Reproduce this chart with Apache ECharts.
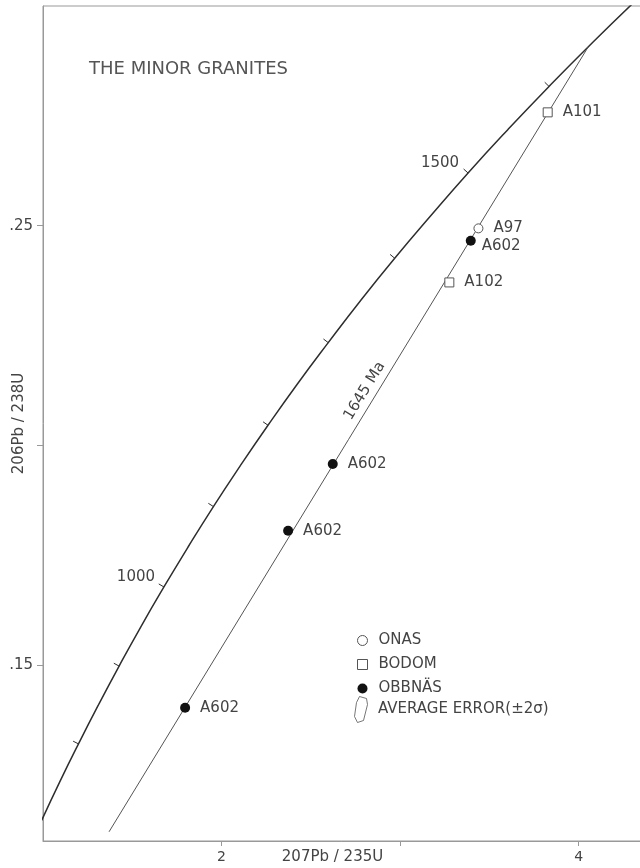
<!DOCTYPE html>
<html>
<head>
<meta charset="utf-8">
<title>The minor granites</title>
<script src="https://cdn.jsdelivr.net/npm/echarts@6/dist/echarts.min.js"></script>
<style>
  html, body { margin: 0; padding: 0; background: #fff; }
  #chart { width: 640px; height: 868px; }
</style>
</head>
<body>
<div id="chart"></div>
<script>
// concordia curve, read at 50 Ma steps
const concAge = [700, 750, 800, 850, 900, 950, 1000, 1050, 1100, 1150, 1200, 1250, 1300, 1350, 1400, 1450, 1500, 1550, 1600, 1650, 1700];
const concX = [0.9925, 1.0931, 1.1987, 1.3097, 1.4263, 1.5488, 1.6774, 1.8126, 1.9545, 2.1037, 2.2603, 2.4249, 2.5977, 2.7793, 2.9701, 3.1705, 3.3810, 3.6021, 3.8344, 4.0784, 4.3348];
const concY = [0.1147, 0.1234, 0.1321, 0.1409, 0.1498, 0.1588, 0.1678, 0.1769, 0.1861, 0.1953, 0.2046, 0.2140, 0.2234, 0.2330, 0.2426, 0.2522, 0.2620, 0.2718, 0.2817, 0.2917, 0.3018];
const tickAges = [800, 900, 1000, 1100, 1200, 1300, 1400, 1500, 1600];
const labelAges = [1000, 1500];

// discordia: upper intercept (1645 Ma) and lower end
const discX = [4.054, 1.370];
const discY = [0.2907, 0.1121];
const discLabel = '1645 Ma';

// samples
const onasX = [3.439];
const onasY = [0.2494];
const onasLab = ['A97'];
const bodomX = [3.827, 3.276];
const bodomY = [0.2758, 0.2371];
const bodomLab = ['A101', 'A102'];
const obbX = [3.396, 2.623, 2.373, 1.796];
const obbY = [0.2466, 0.1958, 0.1806, 0.1403];
const obbLab = ['A602', 'A602', 'A602', 'A602'];

// axis ticks
const xTicks = [2, 3, 4];
const xLabels = [2, 4];
const yTicks = [0.15, 0.20, 0.25];
const yLabels = [0.15, 0.25];

const FONT = "'DejaVu Sans', sans-serif";
const INK = '#444';
const errName = 'AVERAGE ERROR(±2σ)';
const errIcon = 'path://M5,0 L12,2 L13,8 L9,24 L3,26 L0,20 L2,6 Z';

function pts(xs, ys, labs) {
    return xs.map((x, i) => ({ value: [x, ys[i]], name: labs[i] }));
}

const obbData = pts(obbX, obbY, obbLab);
// first A602 label sits a little lower
obbData[0].label = { distance: 6, offset: [0, 5] };

const ptLabel = {
    show: true, position: 'right', distance: 10, formatter: '{b}',
    color: INK, fontSize: 15, fontFamily: FONT
};

// where along the discordia the age label sits
const f0 = 0.546, f1 = 0.346;
const lerp = (a, b, t) => a + (b - a) * t;

const myChart = echarts.init(document.getElementById('chart'));

const option = {
    animation: false,
    backgroundColor: '#fff',
    title: {
        text: 'THE MINOR GRANITES',
        left: 84,
        top: 55,
        textStyle: { fontSize: 18, fontWeight: 'normal', color: '#555', fontFamily: FONT }
    },
    grid: {
        left: 43, right: -10, top: 6, bottom: 27,
        show: true, borderColor: '#999', borderWidth: 1,
        outerBoundsMode: 'none'
    },
    legend: [
        {
            orient: 'vertical', left: 352, top: 628,
            itemWidth: 10, itemHeight: 10, itemGap: 9,
            selectedMode: false,
            itemStyle: { borderWidth: 1 },
            textStyle: { fontSize: 15, color: INK, fontFamily: FONT, lineHeight: 14, padding: [0, 0, 0, 6] },
            data: [
                { name: 'ONAS', icon: 'circle', itemStyle: { color: '#fff', borderColor: '#555', borderWidth: 1 } },
                { name: 'BODOM', icon: 'path://M0,0H10V10H0Z', itemStyle: { color: '#fff', borderColor: '#555', borderWidth: 1 } },
                { name: 'OBBNÄS', icon: 'circle', itemStyle: { color: '#111', borderWidth: 0 } }
            ]
        },
        {
            orient: 'vertical', left: 349, top: 691,
            itemWidth: 14, itemHeight: 26,
            selectedMode: false,
            textStyle: { fontSize: 15, color: INK, fontFamily: FONT, padding: [0, 0, 0, 5] },
            data: [
                { name: errName, icon: errIcon, itemStyle: { color: '#fff', borderColor: '#555', borderWidth: 1 } }
            ]
        }
    ],
    xAxis: {
        type: 'value',
        min: 1, max: 4.4, interval: 1,
        name: '207Pb / 235U',
        nameLocation: 'middle',
        nameGap: 9,
        nameMoveOverlap: false,
        nameTextStyle: { fontSize: 15, color: INK, fontFamily: FONT, padding: [0, 28, 0, 0], verticalAlign: 'top' },
        splitLine: { show: false },
        axisLine: { show: true, lineStyle: { color: '#999', width: 1 } },
        axisTick: { show: true, length: 5, inside: false, customValues: xTicks, lineStyle: { color: '#999' } },
        axisLabel: { customValues: xLabels, margin: 9, fontSize: 14, color: INK, fontFamily: FONT }
    },
    yAxis: {
        type: 'value',
        min: 0.11, max: 0.30,
        name: '206Pb / 238U',
        nameLocation: 'middle',
        nameGap: 16,
        nameMoveOverlap: false,
        nameTextStyle: { fontSize: 15, color: INK, fontFamily: FONT },
        splitLine: { show: false },
        axisLine: { show: true, lineStyle: { color: '#999', width: 1 } },
        axisTick: { show: true, length: 6, inside: false, customValues: yTicks, lineStyle: { color: '#999' } },
        axisLabel: {
            customValues: yLabels, margin: 10, fontSize: 15, color: INK, fontFamily: FONT,
            formatter: v => v.toFixed(2).replace(/^0/, '')
        }
    },
    series: [
        {
            name: 'concordia',
            type: 'line',
            data: concX.map((x, i) => [x, concY[i]]),
            smooth: true,
            showSymbol: false,
            clip: true,
            lineStyle: { color: '#2e2e2e', width: 1.5 },
            silent: true,
            z: 2
        },
        {
            name: 'concordiaTicks',
            type: 'custom',
            data: tickAges.map(a => {
                const k = concAge.indexOf(a);
                return [concX[k], concY[k], k, a];
            }),
            renderItem: function (params, api) {
                const k = api.value(2);
                const age = api.value(3);
                const p = api.coord([api.value(0), api.value(1)]);
                const a = api.coord([concX[k - 1], concY[k - 1]]);
                const b = api.coord([concX[k + 1], concY[k + 1]]);
                let tx = b[0] - a[0], ty = b[1] - a[1];
                const L = Math.hypot(tx, ty);
                tx /= L; ty /= L;
                const nx = ty, ny = -tx;
                const children = [{
                    type: 'line',
                    shape: { x1: p[0], y1: p[1], x2: p[0] + nx * 6, y2: p[1] + ny * 6 },
                    style: { stroke: '#2e2e2e', lineWidth: 1 }
                }];
                if (labelAges.indexOf(age) >= 0) {
                    children.push({
                        type: 'text',
                        style: {
                            x: p[0] - 28, y: p[1] - 10, text: String(age),
                            fill: INK, fontSize: 15, fontFamily: FONT,
                            align: 'center', verticalAlign: 'middle'
                        }
                    });
                }
                return { type: 'group', children: children };
            },
            silent: true,
            z: 3
        },
        {
            name: 'discordia',
            type: 'line',
            data: discX.map((x, i) => [x, discY[i]]),
            showSymbol: false,
            lineStyle: { color: '#555', width: 1 },
            silent: true,
            z: 2,
            markLine: {
                silent: true,
                symbol: 'none',
                lineStyle: { color: 'rgba(0,0,0,0)', width: 0 },
                label: {
                    show: true, position: 'insideMiddleTop', distance: 4,
                    formatter: discLabel, color: INK, fontSize: 15, fontFamily: FONT
                },
                data: [[
                    { coord: [lerp(discX[0], discX[1], f0), lerp(discY[0], discY[1], f0)] },
                    { coord: [lerp(discX[0], discX[1], f1), lerp(discY[0], discY[1], f1)] }
                ]]
            }
        },
        {
            name: 'ONAS',
            type: 'scatter',
            data: pts(onasX, onasY, onasLab),
            symbol: 'circle',
            symbolSize: 9,
            itemStyle: { color: '#fff', borderColor: '#555', borderWidth: 1, opacity: 1 },
            label: ptLabel,
            z: 5
        },
        {
            name: 'BODOM',
            type: 'scatter',
            data: pts(bodomX, bodomY, bodomLab),
            symbol: 'rect',
            symbolSize: 9,
            itemStyle: { color: '#fff', borderColor: '#555', borderWidth: 1, opacity: 1 },
            label: ptLabel,
            z: 5
        },
        {
            name: 'OBBNÄS',
            type: 'scatter',
            data: obbData,
            symbol: 'circle',
            symbolSize: 10,
            itemStyle: { color: '#111', opacity: 1 },
            label: ptLabel,
            z: 5
        },
        {
            name: errName,
            type: 'scatter',
            data: [],
            symbol: errIcon,
            itemStyle: { color: '#fff', borderColor: '#555', borderWidth: 1 }
        }
    ]
};

myChart.setOption(option);
</script>
</body>
</html>
